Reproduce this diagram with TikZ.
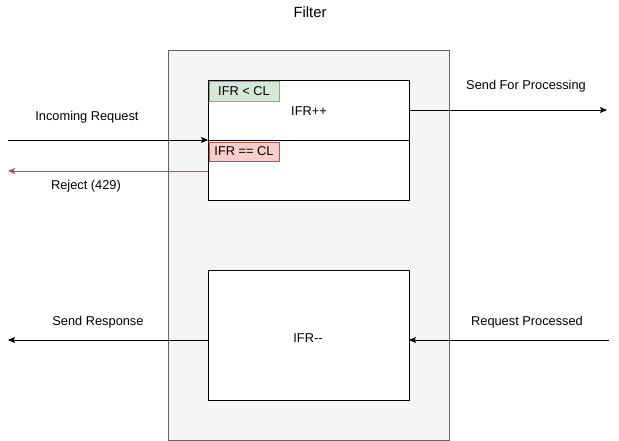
\documentclass[tikz,border=0pt]{standalone}
\usepackage{fontspec}
\setmainfont{Liberation Sans}
\usetikzlibrary{arrows.meta}
\definecolor{contfill}{HTML}{F5F5F5}
\definecolor{contdraw}{HTML}{666666}
\definecolor{gfill}{HTML}{D5E8D4}
\definecolor{gdraw}{HTML}{82B366}
\definecolor{rfill}{HTML}{F8CECC}
\definecolor{rdraw}{HTML}{B85450}
\tikzset{
  x=1pt, y=-1pt,
  every node/.style={font=\fontsize{12.8}{15}\selectfont, inner sep=0pt, outer sep=0pt},
  box/.style={draw=black, fill=white, line width=0.8pt, anchor=north west},
  cont/.style={draw=contdraw, fill=contfill, line width=0.8pt, anchor=north west},
  tagg/.style={draw=gdraw, fill=gfill, line width=0.8pt, anchor=north west, minimum width=70pt, minimum height=20pt},
  tagr/.style={draw=rdraw, fill=rfill, line width=0.8pt, anchor=north west, minimum width=70pt, minimum height=19pt},
  conn/.style={line width=0.8pt, -{Stealth[length=7pt,width=6pt,inset=1.5pt]}},
  lbl/.style={text=black}
}
\begin{document}
\begin{tikzpicture}
\useasboundingbox (0,0) rectangle (619,441);
\node[lbl, font=\fontsize{14.8}{17}\selectfont] (title) at (310,12) {Filter};
\node[cont, minimum width=281pt, minimum height=390pt] (filter) at (168,50) {};
\node[box, minimum width=201pt, minimum height=120pt] (top) at (208,80) {};
\node[box, minimum width=201pt, minimum height=130pt] (bot) at (208,270) {};
\draw[line width=0.8pt] (top.west) -- (top.east);
\node[lbl] (lt) [tagg] at (209,81) {IFR < CL};
\node[lbl] (eq) [tagr] at (209,142) {IFR == CL};
\node[lbl] (inc) at (309,111) {IFR++};
\node[lbl] (dec) at (308,338) {IFR{-}{-}};
% connectors
\coordinate (inS) at (8,140);
\draw[conn] (inS) -- (top.west);
\node[lbl] (inL) at (87,117.5) {Incoming Request};
\coordinate (rejS) at (208,171);
\coordinate (rejE) at (8,171);
\draw[conn, draw=rdraw] (rejS) -- (rejE);
\node[lbl] (rejL) at (86,186.5) {Reject (429)};
\coordinate (sfpS) at (409,110);
\coordinate (sfpE) at (607,110);
\draw[conn] (sfpS) -- (sfpE);
\node[lbl] (sfpL) at (526,86.5) {Send For Processing};
\coordinate (bw) at (208,340);
\coordinate (be) at (409,340);
\coordinate (srE) at (8,340);
\draw[conn] (bw) -- (srE);
\node[lbl] (srL) at (98,322.5) {Send Response};
\coordinate (rpS) at (609,340);
\draw[conn] (rpS) -- (be);
\node[lbl] (rpL) at (527,322.5) {Request Processed};
\end{tikzpicture}
\end{document}
